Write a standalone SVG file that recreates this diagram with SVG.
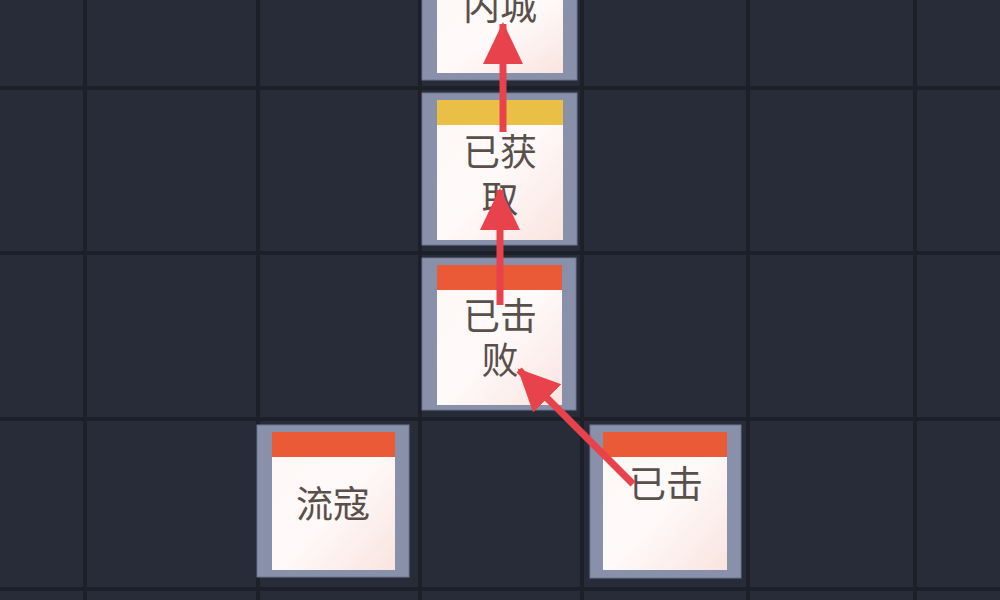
<svg xmlns="http://www.w3.org/2000/svg" width="1000" height="600" viewBox="0 0 1000 600">
<style>
.frame{fill:#8990aa;stroke:#6f7690;stroke-width:1}
.inner{fill:url(#paper)}
.red{fill:#ea5a36}
.gold{fill:#e9c045}
.label{font-family:"Noto Sans CJK SC","Noto Sans CJK JP",sans-serif;font-size:37px;fill:#5a504b;text-anchor:middle}
.grid{stroke:#1d2029;stroke-width:4}
.conn{stroke:#e8434c;stroke-width:7;fill:none}
</style>
<defs>
<linearGradient id="paper" x1="0" y1="0" x2="1" y2="1">
<stop offset="0" stop-color="#fdf7f5"/>
<stop offset="0.5" stop-color="#fffafa"/>
<stop offset="1" stop-color="#f9e4df"/>
</linearGradient>
<marker id="head" markerUnits="userSpaceOnUse" markerWidth="44" markerHeight="44" viewBox="0 0 44 40" refX="40" refY="20" orient="auto">
<path d="M0,0 L42,20 L0,40 Z" fill="#e8434c"/>
</marker>
</defs>
<rect width="1000" height="600" fill="#282c39"/>
<g id="grid">
<line class="grid" x1="0" y1="88" x2="1000" y2="88"/>
<line class="grid" x1="0" y1="253" x2="1000" y2="253"/>
<line class="grid" x1="0" y1="419" x2="1000" y2="419"/>
<line class="grid" x1="0" y1="589" x2="1000" y2="589"/>
<line class="grid" x1="85" y1="0" x2="85" y2="600"/>
<line class="grid" x1="258" y1="0" x2="258" y2="600"/>
<line class="grid" x1="420" y1="0" x2="420" y2="600"/>
<line class="grid" x1="582" y1="0" x2="582" y2="600"/>
<line class="grid" x1="748" y1="0" x2="748" y2="600"/>
<line class="grid" x1="915" y1="0" x2="915" y2="600"/>
</g>
<g id="node-neicheng">
<rect class="frame" x="422" y="-10" width="155" height="90"/>
<rect class="inner" x="437" y="-10" width="126" height="83"/>
<text class="label" x="500" y="20">内城</text>
</g>
<g id="node-yihuoqu">
<rect class="frame" x="422" y="93" width="155" height="152"/>
<rect class="inner" x="437" y="100" width="126" height="140"/>
<rect class="gold" x="437" y="100" width="126" height="25"/>
<text class="label" x="500" y="166">已获</text>
<text class="label" x="500" y="213">取</text>
</g>
<g id="node-yijibai">
<rect class="frame" x="422" y="258" width="154" height="152"/>
<rect class="inner" x="437" y="265" width="125" height="140"/>
<rect class="red" x="437" y="265" width="125" height="25"/>
<text class="label" x="500" y="330">已击</text>
<text class="label" x="500" y="374">败</text>
</g>
<g id="node-liukou">
<rect class="frame" x="257" y="425" width="152" height="152"/>
<rect class="inner" x="272" y="432" width="123" height="138"/>
<rect class="red" x="272" y="432" width="123" height="25"/>
<text class="label" x="333" y="518">流寇</text>
</g>
<g id="node-yiji">
<rect class="frame" x="590" y="425" width="151" height="153"/>
<rect class="inner" x="603" y="432" width="124" height="138"/>
<rect class="red" x="603" y="432" width="124" height="25"/>
<text class="label" x="666" y="498">已击</text>
</g>
<g id="connectors">
<line class="conn" x1="503" y1="132" x2="503" y2="24" marker-end="url(#head)"/>
<line class="conn" x1="500" y1="305" x2="500" y2="190" marker-end="url(#head)"/>
<line class="conn" x1="633" y1="484" x2="519" y2="370" marker-end="url(#head)"/>
</g>
</svg>
